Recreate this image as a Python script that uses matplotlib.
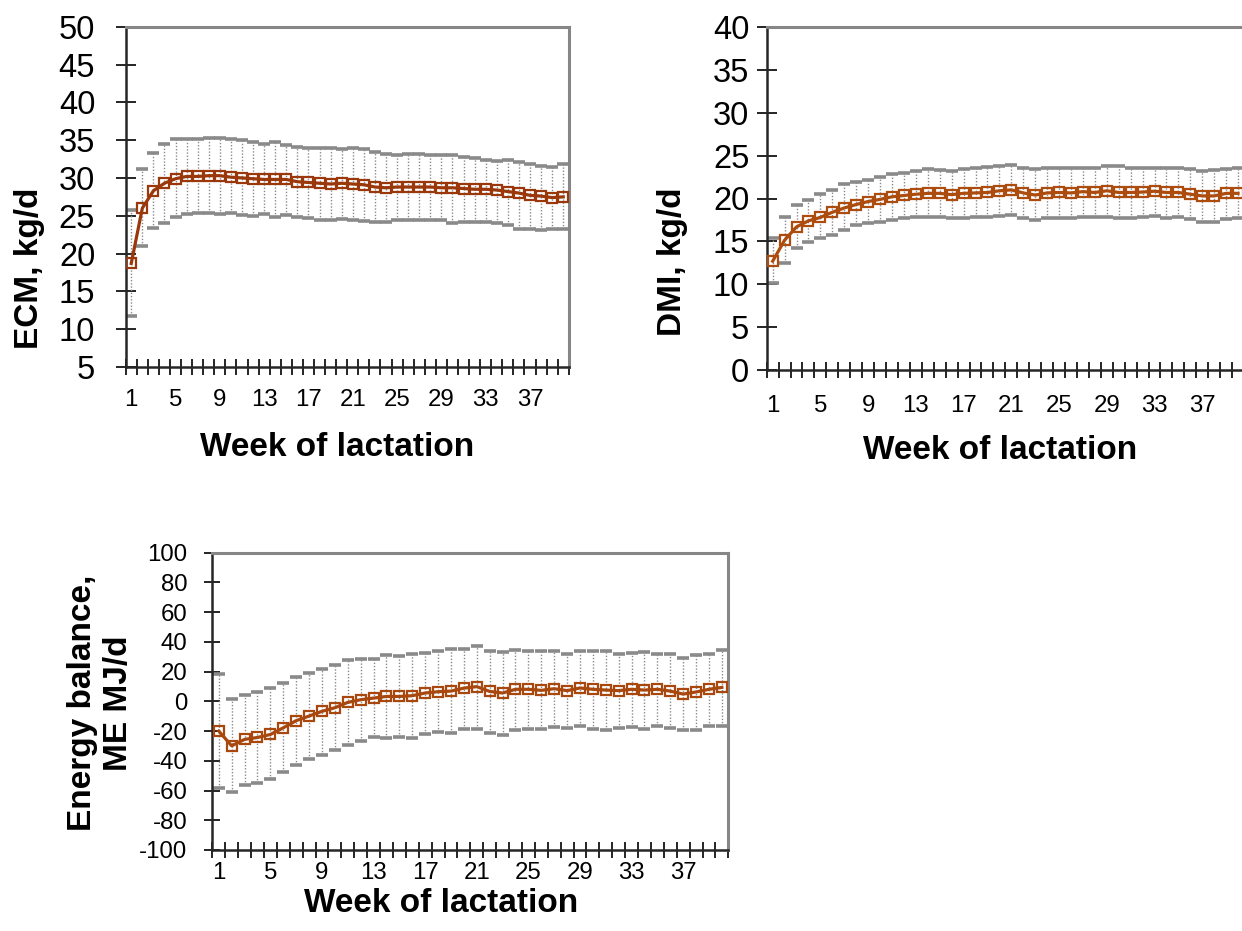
import numpy as np
import matplotlib
matplotlib.use("Agg")
import matplotlib.pyplot as plt

plt.rcParams['font.family'] = ['Liberation Sans', 'DejaVu Sans']
plt.rcParams['axes.unicode_minus'] = False

weeks = np.arange(1, 41)
week_labels = [1, 5, 9, 13, 17, 21, 25, 29, 33, 37]

# ECM, kg/d
ecm_mean = [18.7, 26.0, 28.3, 29.3, 29.9, 30.2, 30.2, 30.3, 30.3, 30.1,
            30.0, 29.9, 29.8, 29.8, 29.8, 29.5, 29.4, 29.3, 29.2, 29.3,
            29.2, 29.1, 28.8, 28.7, 28.8, 28.8, 28.8, 28.8, 28.7, 28.7,
            28.6, 28.5, 28.5, 28.4, 28.2, 28.0, 27.7, 27.6, 27.4, 27.5]
ecm_hi = [25.8, 31.2, 33.35, 34.5, 35.2, 35.2, 35.2, 35.25, 35.25, 35.1,
          35.0, 34.8, 34.5, 34.7, 34.4, 34.1, 34.0, 33.9, 33.9, 33.8,
          34.0, 33.85, 33.4, 33.2, 33.1, 33.2, 33.15, 33.0, 33.0, 33.1,
          32.8, 32.7, 32.4, 32.2, 32.4, 32.1, 31.85, 31.6, 31.45, 31.85]
ecm_lo = [11.8, 21.0, 23.4, 24.1, 24.8, 25.2, 25.3, 25.4, 25.25, 25.3,
          25.1, 25.0, 25.2, 24.9, 25.15, 24.8, 24.7, 24.5, 24.4, 24.6,
          24.4, 24.3, 24.2, 24.2, 24.4, 24.4, 24.4, 24.5, 24.45, 24.0,
          24.15, 24.15, 24.2, 24.1, 23.75, 23.2, 23.25, 23.15, 23.25, 23.2]

# DMI, kg/d
dmi_mean = [12.7, 15.15, 16.7, 17.4, 17.8, 18.4, 18.9, 19.3, 19.65, 19.9,
            20.2, 20.35, 20.5, 20.6, 20.6, 20.45, 20.6, 20.65, 20.7, 20.9,
            21.0, 20.65, 20.4, 20.65, 20.7, 20.65, 20.8, 20.7, 20.9, 20.7,
            20.7, 20.75, 20.85, 20.7, 20.7, 20.5, 20.3, 20.3, 20.6, 20.6]
dmi_hi = [15.35, 17.9, 19.3, 19.8, 20.5, 21.0, 21.7, 21.9, 22.2, 22.55,
          22.9, 23.0, 23.2, 23.4, 23.35, 23.2, 23.4, 23.55, 23.7, 23.8,
          23.9, 23.6, 23.4, 23.6, 23.6, 23.6, 23.6, 23.55, 23.8, 23.8,
          23.6, 23.6, 23.6, 23.6, 23.55, 23.45, 23.25, 23.3, 23.4, 23.6]
dmi_lo = [10.2, 12.5, 14.2, 14.9, 15.35, 15.8, 16.3, 16.9, 17.2, 17.3,
          17.55, 17.75, 17.8, 17.8, 17.9, 17.7, 17.7, 17.8, 17.8, 18.0,
          18.05, 17.75, 17.55, 17.75, 17.75, 17.7, 17.9, 17.85, 17.9, 17.75,
          17.75, 17.8, 18.0, 17.75, 17.9, 17.6, 17.3, 17.3, 17.6, 17.7]

# Energy balance, ME MJ/d
eb_mean = [-20.0, -29.9, -25.6, -24.3, -22.3, -17.8, -13.0, -9.9, -6.7, -4.3,
           -0.7, 1.1, 2.2, 3.3, 3.3, 3.8, 5.6, 6.5, 6.9, 8.9,
           9.9, 6.7, 5.6, 8.1, 8.1, 7.4, 8.5, 7.2, 9.0, 8.1,
           7.6, 7.2, 8.1, 7.6, 8.1, 6.9, 4.9, 6.3, 8.1, 9.4]
eb_hi = [18.2, 1.3, 4.5, 6.1, 8.75, 12.1, 16.4, 19.1, 22.0, 24.2,
         27.9, 28.6, 28.6, 31.2, 30.3, 31.6, 32.3, 33.6, 35.0, 35.4,
         37.4, 33.6, 32.9, 34.5, 33.6, 33.6, 33.6, 31.9, 33.6, 34.2,
         33.6, 31.6, 32.5, 32.9, 32.0, 32.0, 29.3, 31.1, 32.0, 34.5]
eb_lo = [-58.6, -60.9, -56.1, -54.8, -52.1, -47.4, -43.1, -38.6, -36.4, -32.6,
         -29.6, -26.9, -24.0, -24.9, -24.0, -24.5, -22.0, -20.7, -21.1, -18.9,
         -18.4, -21.3, -22.7, -19.3, -18.4, -18.9, -17.5, -18.0, -16.9, -18.9,
         -19.3, -18.0, -17.3, -18.9, -16.9, -18.0, -19.5, -19.5, -16.4, -16.6]

W, H = 1242, 931
fig = plt.figure(figsize=(W / 100, H / 100), dpi=100)


def px_axes(left, top, right, bottom):
    return fig.add_axes([left / W, 1 - bottom / H, (right - left) / W, (bottom - top) / H])


def panel(ax, mean, lo, hi, color, ylim, yticks, ysize, ypad, ylen, xpad):
    mean = np.array(mean)
    lo = np.array(lo)
    hi = np.array(hi)
    eb = ax.errorbar(weeks, mean, yerr=[mean - lo, hi - mean], fmt='none',
                     ecolor='#8a8a8a', elinewidth=1.0, capsize=4, capthick=2.6, zorder=2)
    eb.lines[2][0].set_linestyle((0, (1, 1.3)))
    ax.plot(weeks, mean, color=color, lw=2.3, marker='s', ms=7.2,
            mfc='none', mec=color, mew=1.6, zorder=3)

    ax.set_xlim(0.5, 40.5)
    ax.set_ylim(*ylim)
    ax.set_yticks(yticks)
    ax.tick_params(axis='y', direction='inout', length=ylen, width=1.2,
                   labelsize=ysize, pad=ypad)
    ax.set_xticks(np.arange(0.5, 41, 1))
    ax.set_xticklabels([])
    ax.set_xticks(week_labels, minor=True)
    ax.set_xticklabels([str(w) for w in week_labels], minor=True)
    ax.tick_params(axis='x', which='major', direction='inout', length=12, width=1.2)
    ax.tick_params(axis='x', which='minor', length=0, labelsize=17.3, pad=xpad)

    for s in ['left', 'bottom']:
        ax.spines[s].set_color('#262626')
        ax.spines[s].set_linewidth(1.8)
    for s in ['top', 'right']:
        ax.spines[s].set_color('#868686')
        ax.spines[s].set_linewidth(2.2)


ax1 = px_axes(125.7, 26.7, 568.8, 367)
panel(ax1, ecm_mean, ecm_lo, ecm_hi, '#9a380b', (5, 50), np.arange(5, 51, 5),
      23.5, 14.5, 15, 16)

ax2 = px_axes(766.7, 26.7, 1244, 370.3)
panel(ax2, dmi_mean, dmi_lo, dmi_hi, '#ac4c0e', (0, 40), np.arange(0, 41, 5),
      23.5, 5, 15, 18)

ax3 = px_axes(212.3, 552.7, 728.3, 850)
panel(ax3, eb_mean, eb_lo, eb_hi, '#a8480e', (-100, 100), np.arange(-100, 101, 20),
      17.3, 12.5, 11, 8.5)

lab = dict(fontsize=24, fontweight='bold', ha='center', va='center')
fig.text(30 / W, 1 - 268 / H, 'ECM, kg/d', rotation=90, **lab)
fig.text(337 / W, 1 - 447 / H, 'Week of lactation', **lab)
fig.text(672 / W, 1 - 262 / H, 'DMI, kg/d', rotation=90, **lab)
fig.text(1000 / W, 1 - 451 / H, 'Week of lactation', **lab)
fig.text(82 / W, 1 - 703 / H, 'Energy balance,', rotation=90, **lab)
fig.text(118 / W, 1 - 703 / H, 'ME MJ/d', rotation=90, **lab)
fig.text(441 / W, 1 - 903 / H, 'Week of lactation', **lab)

fig.savefig('out.png', dpi=100)
